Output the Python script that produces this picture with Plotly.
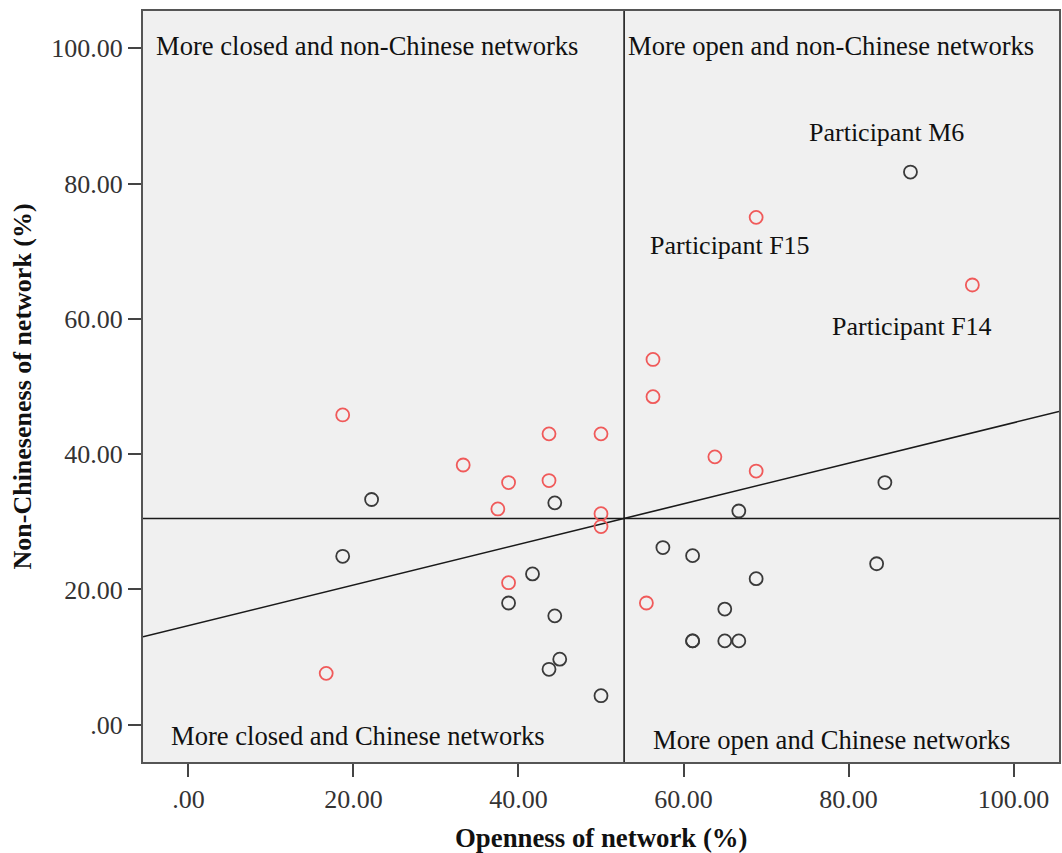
import plotly.graph_objects as go

# Openness (%) and non-Chineseness (%) of each participant's network
female_openness = [18.7, 43.7, 50.0, 33.3, 38.8, 43.7, 37.5, 50.0, 50.0, 38.8, 16.7,
                   68.8, 95.0, 56.3, 56.3, 63.8, 68.8, 55.5]
female_nonchinese = [45.8, 43.0, 43.0, 38.4, 35.8, 36.1, 31.9, 31.2, 29.3, 21.0, 7.6,
                     75.0, 65.0, 54.0, 48.5, 39.6, 37.5, 18.0]

male_openness = [22.2, 44.4, 18.7, 41.7, 38.8, 44.4, 45.0, 43.7, 50.0,
                 84.4, 66.7, 57.5, 61.1, 83.4, 68.8, 65.0, 61.1, 61.1, 65.0, 66.7, 87.5]
male_nonchinese = [33.3, 32.8, 24.9, 22.3, 18.0, 16.1, 9.7, 8.2, 4.3,
                   35.8, 31.6, 26.2, 25.0, 23.8, 21.6, 17.1, 12.4, 12.4, 12.4, 12.4, 81.7]

# Reference lines: group means and the linear fit
mean_openness = 52.8
mean_nonchinese = 30.5
fit_intercept = 14.66
fit_slope = 0.30

axis_range = [-5.5, 105.5]
tick_values = [0, 20, 40, 60, 80, 100]
tick_labels = [".00", "20.00", "40.00", "60.00", "80.00", "100.00"]

quadrant_labels = [
    ("More closed and non-Chinese networks", -4.2, 100.3),
    ("More open and non-Chinese networks", 53.0, 100.3),
    ("More closed and Chinese networks", -2.3, -1.6),
    ("More open and Chinese networks", 56.0, -2.2),
]
participant_labels = [
    ("Participant M6", 75.0, 87.5),
    ("Participant F15", 55.7, 70.9),
    ("Participant F14", 77.7, 58.9),
]

SERIF = "Liberation Serif, Times New Roman, serif"

fig = go.Figure()

fig.add_trace(go.Scatter(
    x=[axis_range[0], axis_range[1]],
    y=[fit_intercept + fit_slope * axis_range[0], fit_intercept + fit_slope * axis_range[1]],
    mode="lines", line=dict(color="#1a1a1a", width=1.6), hoverinfo="skip",
))
fig.add_trace(go.Scatter(
    x=[mean_openness, mean_openness], y=axis_range,
    mode="lines", line=dict(color="#1a1a1a", width=1.6), hoverinfo="skip",
))
fig.add_trace(go.Scatter(
    x=axis_range, y=[mean_nonchinese, mean_nonchinese],
    mode="lines", line=dict(color="#1a1a1a", width=1.6), hoverinfo="skip",
))

fig.add_trace(go.Scatter(
    x=male_openness, y=male_nonchinese, mode="markers", name="Male",
    marker=dict(symbol="circle-open", size=13, color="#3a3a3a", line=dict(width=1.8)),
))
fig.add_trace(go.Scatter(
    x=female_openness, y=female_nonchinese, mode="markers", name="Female",
    marker=dict(symbol="circle-open", size=13, color="#f05a5a", line=dict(width=1.8)),
))

for text, x, y in quadrant_labels:
    fig.add_annotation(x=x, y=y, xref="x", yref="y", text=text, showarrow=False,
                       xanchor="left", yanchor="middle",
                       font=dict(family=SERIF, size=26.6, color="#111"))
for text, x, y in participant_labels:
    fig.add_annotation(x=x, y=y, xref="x", yref="y", text=text, showarrow=False,
                       xanchor="left", yanchor="middle",
                       font=dict(family=SERIF, size=26, color="#111"))

fig.add_annotation(x=0.5, y=0, xref="paper", yref="paper", yshift=-76,
                   text="<b>Openness of network (%)</b>", showarrow=False,
                   xanchor="center", yanchor="middle",
                   font=dict(family=SERIF, size=26.8, color="#111"))
fig.add_annotation(x=0, y=0.5, xref="paper", yref="paper", xshift=-121,
                   text="<b>Non-Chineseness of network (%)</b>", showarrow=False,
                   textangle=-90, xanchor="center", yanchor="middle",
                   font=dict(family=SERIF, size=26, color="#111"))

axis_common = dict(
    range=axis_range, tickvals=tick_values, ticktext=tick_labels,
    showgrid=False, zeroline=False, ticks="outside", ticklen=13, tickwidth=2,
    tickcolor="#444", showline=True, mirror=True, linecolor="#555", linewidth=2,
    tickfont=dict(family=SERIF, size=26, color="#333"),
)

fig.update_layout(
    width=1062, height=853,
    margin=dict(l=143, r=1, t=11, b=91),
    paper_bgcolor="white", plot_bgcolor="#f0f0f0",
    showlegend=False,
    xaxis=axis_common,
    yaxis=axis_common,
)

fig.write_html("out.html")
